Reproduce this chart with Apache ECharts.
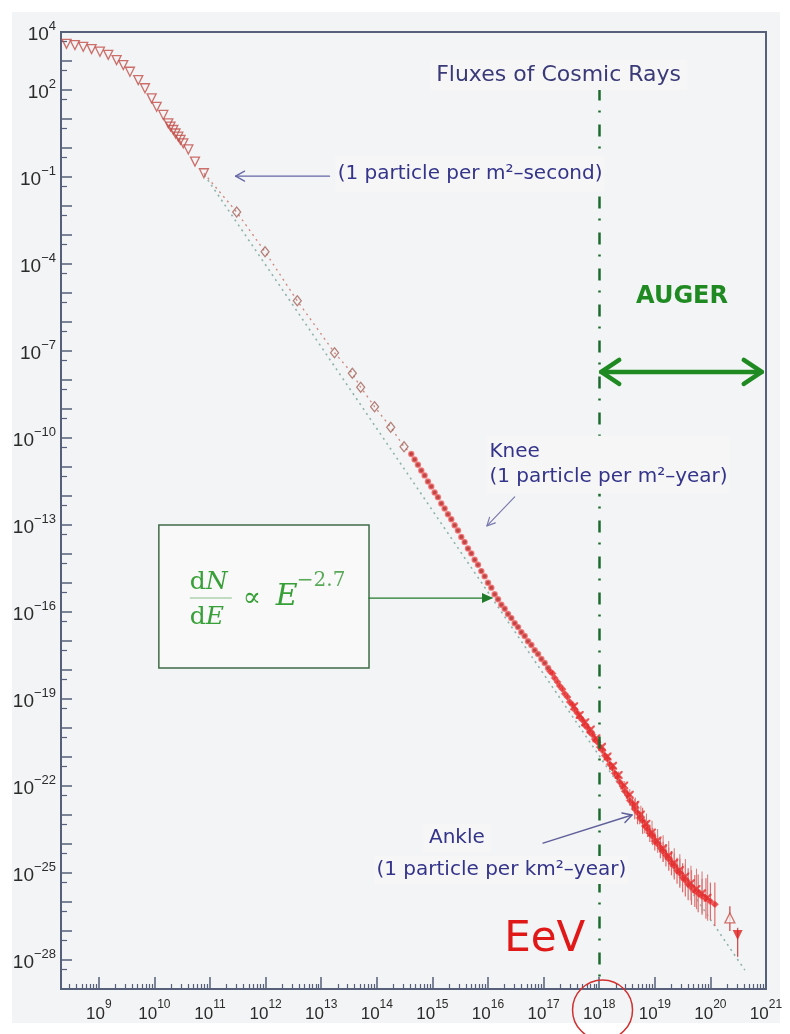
<!DOCTYPE html>
<html>
<head>
<meta charset="utf-8">
<script src="https://cdn.jsdelivr.net/npm/echarts@6/dist/echarts.min.js"></script>
<style>
  html, body { margin: 0; padding: 0; background: #ffffff; }
  #panel { position: absolute; left: 12px; top: 12px; width: 768px; height: 1011px; background: #f3f4f5; }
  #chart { position: absolute; left: 0; top: 0; width: 790px; height: 1034px; }
</style>
</head>
<body>
<div id="panel"></div>
<div id="chart"></div>
<script>
// All values are log10: x = log10(E / eV), y = log10(flux)

// Low-energy direct measurements (open triangles)
const triLogE    = [8.42, 8.57, 8.72, 8.87, 9.02, 9.17, 9.32, 9.44, 9.56, 9.71, 9.83, 9.95, 10.04, 10.16, 10.25, 10.29, 10.34, 10.38, 10.43, 10.47, 10.52, 10.61, 10.73, 10.89];
const triLogFlux = [3.59, 3.55, 3.49, 3.41, 3.32, 3.21, 3.03, 2.86, 2.63, 2.34, 2.06, 1.71, 1.42, 1.14, 0.85, 0.74, 0.62, 0.50, 0.39, 0.28, 0.16, -0.05, -0.47, -0.87];

// Balloon / satellite points (open diamonds)
const diaLogE    = [11.48, 11.99, 12.57, 13.24, 13.56, 13.71, 13.96, 14.25, 14.49];
const diaLogFlux = [-2.21, -3.58, -5.27, -7.06, -7.77, -8.25, -8.92, -9.63, -10.30];

// Air-shower array points (small filled dots)
const dotLogE = [14.62, 14.68, 14.74, 14.80, 14.86, 14.92, 14.98, 15.04, 15.10, 15.16, 15.22, 15.28, 15.34, 15.40,
                 15.46, 15.52, 15.58, 15.64, 15.70, 15.76, 15.82, 15.88, 15.94, 16.00, 16.06, 16.12, 16.18, 16.24,
                 16.30, 16.36, 16.42, 16.48, 16.54, 16.60, 16.66, 16.72, 16.78, 16.84, 16.90, 16.96, 17.02, 17.08];
const dotLogFlux = [-10.55, -10.74, -10.92, -11.12, -11.29, -11.50, -11.67, -11.88, -12.04, -12.26, -12.43, -12.63, -12.80, -13.01,
                    -13.19, -13.41, -13.59, -13.81, -13.98, -14.20, -14.37, -14.59, -14.77, -14.99, -15.16, -15.39, -15.56, -15.75,
                    -15.89, -16.07, -16.21, -16.39, -16.52, -16.70, -16.83, -17.01, -17.14, -17.32, -17.45, -17.62, -17.76, -17.93];

// Highest-energy points with error bars (first experiment)
const uheLogE = [17.12, 17.16, 17.20, 17.25, 17.29, 17.34, 17.38, 17.43, 17.47, 17.52, 17.56, 17.61, 17.65, 17.70, 17.74,
                 17.79, 17.83, 17.88, 17.92, 17.97, 18.01, 18.06, 18.10, 18.15, 18.19, 18.24, 18.28, 18.33, 18.37, 18.42,
                 18.46, 18.51, 18.55, 18.60, 18.64, 18.69, 18.73, 18.78, 18.82, 18.87, 18.91, 18.96, 19.00, 19.05, 19.10,
                 19.15, 19.20, 19.25, 19.30, 19.35, 19.40, 19.45, 19.50, 19.55, 19.60, 19.66, 19.72, 19.78, 19.85, 19.92,
                 20.00, 20.08];
const uheLogFlux = [-18.05, -18.12, -18.28, -18.41, -18.55, -18.66, -18.82, -18.93, -19.10, -19.20, -19.37, -19.49, -19.63, -19.73, -19.90,
                    -19.99, -20.14, -20.23, -20.39, -20.49, -20.66, -20.78, -20.95, -21.07, -21.25, -21.38, -21.56, -21.69, -21.86, -22.00,
                    -22.18, -22.31, -22.50, -22.62, -22.80, -22.92, -23.10, -23.20, -23.38, -23.48, -23.63, -23.74, -23.90, -24.00, -24.14,
                    -24.27, -24.40, -24.52, -24.66, -24.77, -24.92, -25.01, -25.16, -25.26, -25.39, -25.50, -25.62, -25.70, -25.80, -25.88,
                    -25.98, -26.08];
const uheErr = [0.04, 0.04, 0.04, 0.04, 0.05, 0.05, 0.05, 0.05, 0.05, 0.05, 0.05, 0.05, 0.06, 0.06, 0.06,
                0.06, 0.06, 0.06, 0.07, 0.07, 0.07, 0.08, 0.08, 0.08, 0.09, 0.10, 0.10, 0.12, 0.12, 0.14,
                0.15, 0.16, 0.18, 0.20, 0.35, 0.40, 0.22, 0.45, 0.25, 0.28, 0.30, 0.30, 0.32, 0.30, 0.35,
                0.35, 0.38, 0.40, 0.42, 0.45, 0.45, 0.50, 0.50, 0.55, 0.55, 0.60, 0.55, 0.65, 0.60, 0.70,
                0.65, 0.75];

// Highest-energy points (second experiment, crosses)
const uhe2LogE    = [17.55, 17.65, 17.75, 17.85, 17.95, 18.05, 18.15, 18.25, 18.35, 18.45, 18.55, 18.65, 18.75,
                     18.85, 18.95, 19.05, 19.15, 19.25, 19.35, 19.45, 19.55, 19.65, 19.75, 19.85, 19.95];
const uhe2LogFlux = [-19.25, -19.55, -19.80, -20.05, -20.35, -20.65, -20.98, -21.30, -21.62, -21.98, -22.30, -22.65, -22.98,
                     -23.30, -23.60, -23.88, -24.15, -24.40, -24.65, -24.90, -25.12, -25.35, -25.55, -25.70, -25.85];
const uhe2Err     = [0.05, 0.05, 0.05, 0.06, 0.06, 0.08, 0.08, 0.10, 0.12, 0.15, 0.20, 0.25, 0.30,
                     0.35, 0.40, 0.40, 0.45, 0.50, 0.50, 0.55, 0.60, 0.60, 0.70, 0.75, 0.80];

// Two last isolated points: [logE, logFlux, errDown, errUp]
const lastOpen   = [20.35, -26.55, 0.45, 0.40];
const lastLimit  = [20.49, -27.14, 0.75, 0.25];

// E^-2.7 style reference line (end points)
const fitLogE    = [10.90, 20.62];
const fitLogFlux = [-0.93, -28.35];

// Axis ticks and labels
const xLabelExp = [9, 10, 11, 12, 13, 14, 15, 16, 17, 18, 19, 20, 21];
const yLabelExp = [4, 2, -1, -4, -7, -10, -13, -16, -19, -22, -25, -28];
const X_MIN = 8.32, X_MAX = 21, Y_MIN = -29, Y_MAX = 4;
const AUGER_LOGE = 18;

const zip = (a, b) => a.map((v, i) => [v, b[i]]);
const bars = (e, f, err) => e.map((v, i) => [v, f[i] - err[i], f[i] + err[i]]);

const xMajor = [], xMinor = [];
for (let k = 8; k <= 21; k++) {
  if (k >= X_MIN && k <= X_MAX) xMajor.push(k);
  for (let n = 2; n <= 9; n++) {
    const v = k + Math.log10(n);
    if (v > X_MIN && v < X_MAX) xMinor.push(v);
  }
}
const yMajor = [], yMinor = [];
for (let k = Y_MIN; k <= Y_MAX; k++) {
  yMajor.push(k);
  if (k - 1 / 3 > Y_MIN) yMinor.push(k - 1 / 3);
}

const AXIS_COLOR = '#56607a';
const LABEL_FONT = '"Liberation Sans", Arial, sans-serif';
const NOTE_FONT = '"DejaVu Sans", "Noto Sans", sans-serif';
const NAVY = '#34348a';
const CROSS = 'path://M0,0L2,0L10,8L10,10L8,10L0,2Z M8,0L10,0L10,2L2,10L0,10L0,8Z';

const chart = echarts.init(document.getElementById('chart'), null, { renderer: 'canvas' });

const baseX = {
  type: 'value', min: X_MIN, max: X_MAX, position: 'bottom', gridIndex: 0,
  splitLine: { show: false }
};
const baseY = {
  type: 'value', min: Y_MIN, max: Y_MAX, position: 'left', gridIndex: 0,
  splitLine: { show: false }
};

function errorBars(name, data, color, width) {
  return {
    name, type: 'custom', z: 3, data,
    renderItem: (params, api) => {
      const p1 = api.coord([api.value(0), api.value(1)]);
      const p2 = api.coord([api.value(0), api.value(2)]);
      return { type: 'line', shape: { x1: p1[0], y1: p1[1], x2: p2[0], y2: p2[1] },
               style: { stroke: color, lineWidth: width } };
    }
  };
}

chart.setOption({
  animation: false,
  backgroundColor: 'transparent',
  grid: {
    left: 61, top: 32, right: 24, bottom: 45,
    show: true, borderColor: AXIS_COLOR, borderWidth: 2, backgroundColor: 'transparent'
  },
  xAxis: [
    Object.assign({}, baseX, {
      axisLine: { show: true, onZero: false, lineStyle: { color: AXIS_COLOR, width: 2 } },
      axisTick: { show: true, inside: true, length: 12, customValues: xMajor, lineStyle: { color: AXIS_COLOR, width: 1.5 } },
      axisLabel: {
        show: true, customValues: xLabelExp, margin: 10,
        formatter: v => '{b|10}{s|' + v + '}',
        rich: {
          b: { fontFamily: LABEL_FONT, fontSize: 17, color: '#2b2b2b', lineHeight: 24, verticalAlign: 'bottom' },
          s: { fontFamily: LABEL_FONT, fontSize: 12, color: '#2b2b2b', lineHeight: 12, verticalAlign: 'top' }
        }
      }
    }),
    Object.assign({}, baseX, {
      axisLine: { show: false, onZero: false },
      axisTick: { show: true, inside: true, length: 5, customValues: xMinor, lineStyle: { color: AXIS_COLOR, width: 1.2 } },
      axisLabel: { show: false }
    })
  ],
  yAxis: [
    Object.assign({}, baseY, {
      axisLine: { show: true, onZero: false, lineStyle: { color: AXIS_COLOR, width: 2 } },
      axisTick: { show: true, inside: true, length: 11, customValues: yMajor, lineStyle: { color: AXIS_COLOR, width: 1.5 } },
      axisLabel: {
        show: true, customValues: yLabelExp, margin: 5,
        formatter: v => '{b|10}{s|' + (v < 0 ? '\u2212' + (-v) : v) + '}',
        rich: {
          b: { fontFamily: LABEL_FONT, fontSize: 19, color: '#2b2b2b', lineHeight: 24, verticalAlign: 'bottom' },
          s: { fontFamily: LABEL_FONT, fontSize: 13, color: '#2b2b2b', lineHeight: 13, verticalAlign: 'top' }
        }
      }
    }),
    Object.assign({}, baseY, {
      axisLine: { show: false, onZero: false },
      axisTick: { show: true, inside: true, length: 6, customValues: yMinor, lineStyle: { color: AXIS_COLOR, width: 1.2 } },
      axisLabel: { show: false }
    })
  ],
  series: [
    {
      name: 'power law', type: 'line', z: 1, symbol: 'none',
      data: zip(fitLogE, fitLogFlux),
      lineStyle: { color: '#8db3ab', width: 1.6, type: [2, 4] },
      markLine: {
        silent: true, symbol: 'none', label: { show: false },
        lineStyle: { color: '#1d6b2c', width: 2.5, type: [12, 10, 2, 12] },
        data: [[{ coord: [AUGER_LOGE, 2.05] }, { coord: [AUGER_LOGE, Y_MIN] }]]
      }
    },
    {
      name: 'link', type: 'line', z: 2, symbol: 'none',
      data: [zip(triLogE, triLogFlux).slice(-1)[0]].concat(zip(diaLogE, diaLogFlux), [[dotLogE[0], dotLogFlux[0]]]),
      lineStyle: { color: '#d08a80', width: 1.4, type: [2, 4] }
    },
    {
      name: 'direct', type: 'scatter', z: 3,
      data: zip(triLogE, triLogFlux),
      symbol: 'triangle', symbolRotate: 180, symbolSize: 9,
      itemStyle: { color: 'rgba(0,0,0,0)', borderColor: '#c24d48', borderWidth: 1.3 }
    },
    {
      name: 'balloon', type: 'scatter', z: 3,
      data: zip(diaLogE, diaLogFlux),
      symbol: 'diamond', symbolSize: [8, 10],
      itemStyle: { color: 'rgba(0,0,0,0)', borderColor: '#a2645a', borderWidth: 1.3 }
    },
    errorBars('error bars', bars(uheLogE, uheLogFlux, uheErr), '#e06a6a', 1.2),
    errorBars('error bars 2', bars(uhe2LogE, uhe2LogFlux, uhe2Err), '#d78080', 1.1),
    {
      name: 'showers', type: 'scatter', z: 4,
      data: zip(dotLogE, dotLogFlux),
      symbol: 'circle', symbolSize: 5,
      itemStyle: { color: '#b31a1a', borderColor: '#f06a6a', borderWidth: 1.4 }
    },
    {
      name: 'uhe', type: 'scatter', z: 4,
      data: zip(uheLogE, uheLogFlux),
      symbol: 'diamond', symbolSize: 7,
      itemStyle: { color: '#e32525', borderColor: '#f26060', borderWidth: 0.8 }
    },
    {
      name: 'uhe 2', type: 'scatter', z: 4,
      data: zip(uhe2LogE, uhe2LogFlux),
      symbol: CROSS, symbolSize: 8,
      itemStyle: { color: '#e43030' }
    },
    errorBars('last bars', [lastOpen, lastLimit].map(p => [p[0], p[1] - p[2], p[1] + p[3]]), '#d05050', 1.3),
    {
      name: 'last open', type: 'scatter', z: 4,
      data: [[lastOpen[0], lastOpen[1]]],
      symbol: 'triangle', symbolSize: 10,
      itemStyle: { color: '#f6f6f6', borderColor: '#c8504a', borderWidth: 1.3 }
    },
    {
      name: 'last limit', type: 'scatter', z: 4,
      data: [[lastLimit[0], lastLimit[1]]],
      symbol: 'triangle', symbolRotate: 180, symbolSize: 10,
      itemStyle: { color: '#e02020' }
    }
  ]
});

// ---- annotations, anchored in data space ----
const px = (x, y) => chart.convertToPixel({ gridIndex: 0 }, [x, y]);

function label(x, y, text, opts) {
  const p = px(x, y);
  return {
    type: 'text', x: p[0], y: p[1], z: 100,
    style: Object.assign({
      text, font: '20px ' + NOTE_FONT, fill: NAVY,
      align: 'left', verticalAlign: 'middle', textAlign: 'left', textVerticalAlign: 'middle'
    }, opts || {})
  };
}
function arrow(from, to, color, width, head, filled) {
  const a = px(from[0], from[1]), b = px(to[0], to[1]);
  const ang = Math.atan2(b[1] - a[1], b[0] - a[0]);
  const hl = head[0], hw = head[1];
  const bx = b[0] - hl * Math.cos(ang), by = b[1] - hl * Math.sin(ang);
  const l = [bx + hw * Math.sin(ang), by - hw * Math.cos(ang)];
  const r = [bx - hw * Math.sin(ang), by + hw * Math.cos(ang)];
  const els = [{
    type: 'line', z: 100, shape: { x1: a[0], y1: a[1], x2: filled ? bx : b[0], y2: filled ? by : b[1] },
    style: { stroke: color, lineWidth: width, lineCap: 'round' }
  }];
  if (filled) {
    els.push({ type: 'polygon', z: 100, shape: { points: [l, b, r] }, style: { fill: color } });
  } else {
    els.push({ type: 'polyline', z: 100, shape: { points: [l, b, r] },
               style: { stroke: color, lineWidth: width, lineCap: 'round', lineJoin: 'round', fill: null } });
  }
  return els;
}

const boxBg = '#f6f6f7';
const g = [];

g.push(label(17.27, 2.52, 'Fluxes of Cosmic Rays',
  { font: '22px ' + NOTE_FONT, fill: '#3a3a78', align: 'center', textAlign: 'center', backgroundColor: boxBg, padding: [4, 6] }));

g.push(label(13.26, -0.90, '(1 particle per m\u00B2\u2013second)', { backgroundColor: boxBg, padding: [8, 2] }));
arrow([13.15, -0.97], [11.46, -0.97], '#6767a8', 1.3, [9, 5], false).forEach(e => g.push(e));

g.push(label(19.49, -5.14, 'AUGER',
  { font: 'bold 24px ' + NOTE_FONT, fill: '#1f8a22', align: 'center', textAlign: 'center' }));
{
  const a = px(AUGER_LOGE, -7.72), b = px(20.96, -7.72);
  g.push({ type: 'line', z: 100, shape: { x1: a[0] + 2, y1: a[1], x2: b[0] - 2, y2: b[1] },
           style: { stroke: '#1f8a22', lineWidth: 4.5, lineCap: 'round' } });
  g.push({ type: 'polyline', z: 100, shape: { points: [[a[0] + 20, a[1] - 12], [a[0] + 2, a[1]], [a[0] + 20, a[1] + 12]] },
           style: { stroke: '#1f8a22', lineWidth: 4.5, lineCap: 'round', lineJoin: 'round', fill: null } });
  g.push({ type: 'polyline', z: 100, shape: { points: [[b[0] - 20, b[1] - 12], [b[0] - 2, b[1]], [b[0] - 20, b[1] + 12]] },
           style: { stroke: '#1f8a22', lineWidth: 4.5, lineCap: 'round', lineJoin: 'round', fill: null } });
}

g.push(label(15.99, -10.92, 'Knee\n(1 particle per m\u00B2\u2013year)',
  { lineHeight: 25, backgroundColor: boxBg, padding: [4, 2] }));
arrow([16.48, -12.03], [15.98, -13.03], '#7a7ab0', 1.2, [8, 4], false).forEach(e => g.push(e));

// formula box
{
  const tl = px(10.08, -13.0), br = px(13.86, -17.93);
  g.push({ type: 'rect', z: 99, shape: { x: tl[0], y: tl[1], width: br[0] - tl[0], height: br[1] - tl[1] },
           style: { fill: '#f8f9f8', stroke: '#3f6b46', lineWidth: 1.5 } });
  const fx = tl[0] + 31, fy = tl[1] + 73;
  const green = '#38a038';
  const serif = '"DejaVu Serif", "Liberation Serif", serif';
  g.push({ type: 'text', z: 100, x: fx, y: fy - 16, style: {
    text: '{r|d}{i|N}', align: 'left', verticalAlign: 'middle', textAlign: 'left', textVerticalAlign: 'middle',
    rich: { r: { font: '25px ' + serif, fill: green }, i: { font: 'italic 25px ' + serif, fill: green } } } });
  g.push({ type: 'line', z: 100, shape: { x1: fx, y1: fy, x2: fx + 42, y2: fy }, style: { stroke: '#8cbf8c', lineWidth: 1 } });
  g.push({ type: 'text', z: 100, x: fx, y: fy + 19, style: {
    text: '{r|d}{i|E}', align: 'left', verticalAlign: 'middle', textAlign: 'left', textVerticalAlign: 'middle',
    rich: { r: { font: '25px ' + serif, fill: green }, i: { font: 'italic 25px ' + serif, fill: green } } } });
  g.push({ type: 'text', z: 100, x: fx + 53, y: fy + 1, style: {
    text: '\u221D', font: '27px ' + serif, fill: green, align: 'left', verticalAlign: 'middle', textAlign: 'left', textVerticalAlign: 'middle' } });
  g.push({ type: 'text', z: 100, x: fx + 86, y: fy - 1, style: {
    text: 'E', font: 'italic 30px ' + serif, fill: green, align: 'left', verticalAlign: 'middle', textAlign: 'left', textVerticalAlign: 'middle' } });
  g.push({ type: 'text', z: 100, x: fx + 107, y: fy - 17, style: {
    text: '\u22122.7', font: '20px ' + serif, fill: '#5aa95a', align: 'left', verticalAlign: 'middle', textAlign: 'left', textVerticalAlign: 'middle' } });
}
arrow([13.86, -15.52], [16.09, -15.52], '#1f7a2a', 1.4, [11, 5], true).forEach(e => g.push(e));

g.push(label(15.44, -23.79, 'Ankle', { align: 'center', textAlign: 'center', backgroundColor: boxBg, padding: [4, 6] }));
g.push(label(16.24, -24.90, '(1 particle per km\u00B2\u2013year)', { align: 'center', textAlign: 'center', backgroundColor: boxBg, padding: [4, 2] }));
arrow([16.99, -23.97], [18.59, -23.0], '#5f5f9a', 1.4, [9, 5], false).forEach(e => g.push(e));

g.push(label(17.02, -27.31, 'EeV',
  { font: '42px ' + NOTE_FONT, fill: '#e01818', align: 'center', textAlign: 'center' }));
{
  const c = px(18.06, -29.72);
  g.push({ type: 'circle', z: 100, shape: { cx: c[0], cy: c[1], r: 30 },
           style: { fill: null, stroke: '#d03030', lineWidth: 1.5 } });
}

chart.setOption({ graphic: { elements: g } });
</script>
</body>
</html>
